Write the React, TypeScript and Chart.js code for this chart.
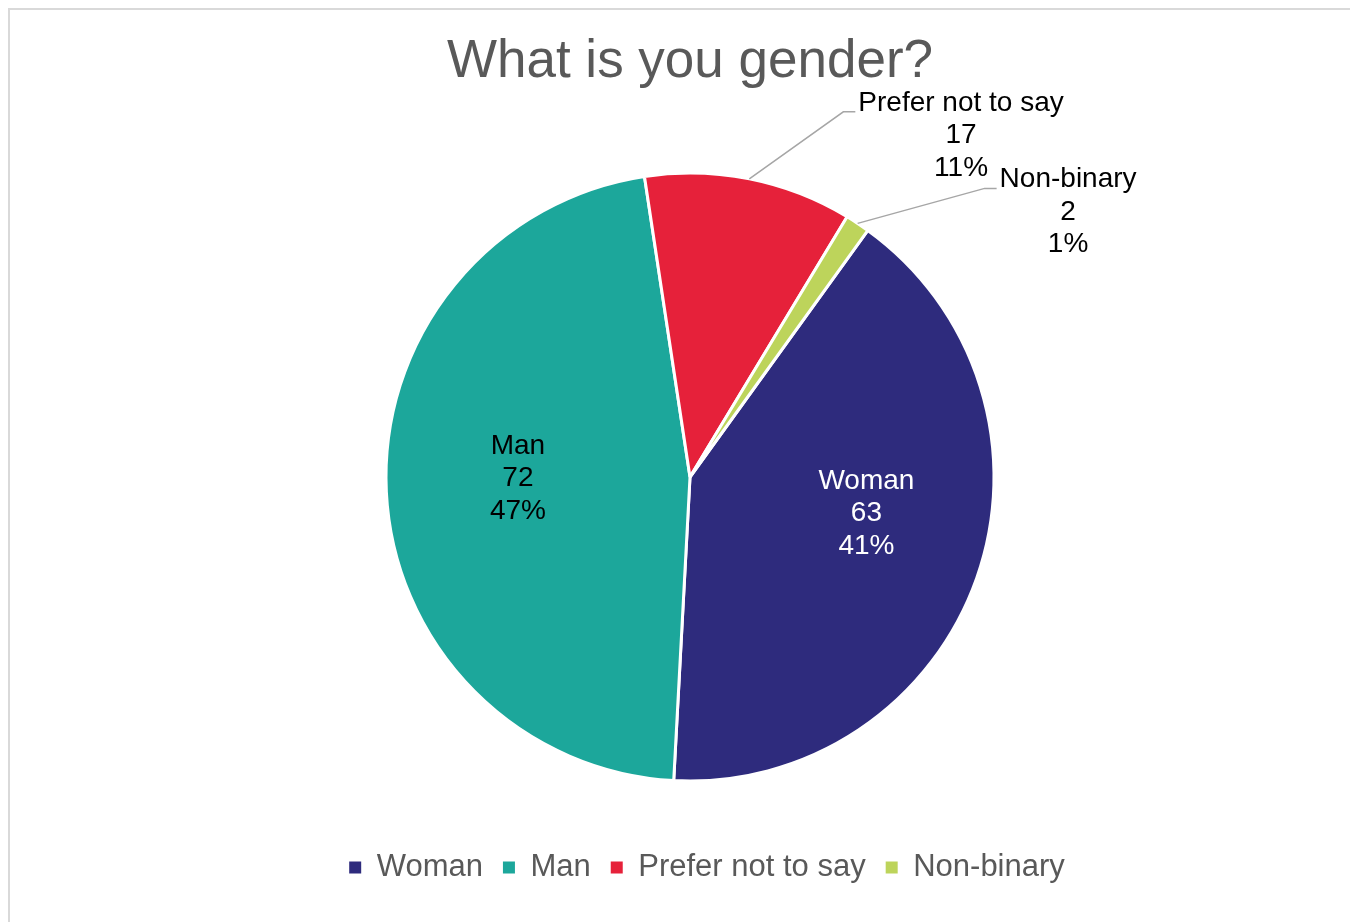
import React, { useEffect, useRef } from "react";
import { Chart, registerables } from "chart.js";

Chart.register(...registerables);

// ---- data ----
const categories = ["Woman", "Man", "Prefer not to say", "Non-binary"];
const counts = [63, 72, 17, 2];
const sliceColors = ["#2E2B7D", "#1CA79B", "#E6213A", "#BDD45B"];
const titleText = "What is you gender?";

// ---- label layout (styling, not data) ----
const labelLayout = [
  { mode: "inside", factor: 0.57, nudge: [13, -21], color: "#FFFFFF" },
  { mode: "inside", factor: 0.57, nudge: [1, -7], color: "#000000" },
  { mode: "outside", elbow: [94, -67], color: "#000000" },
  { mode: "outside", elbow: [127, -35], color: "#000000" },
];

const FONT = "'Liberation Sans', Arial, Helvetica, sans-serif";
const LABEL_SIZE = 28;
const LINE = 32.5;

const sliceLabelPlugin = {
  id: "sliceLabels",
  afterDatasetsDraw(chart: any) {
    const ctx = chart.ctx;
    const meta = chart.getDatasetMeta(0);
    const total = counts.reduce((a, b) => a + b, 0);
    ctx.save();
    ctx.font = `${LABEL_SIZE}px ${FONT}`;
    ctx.textBaseline = "middle";
    ctx.textAlign = "center";
    meta.data.forEach((arc: any, i: number) => {
      const { x, y, startAngle, endAngle, outerRadius } = arc.getProps(
        ["x", "y", "startAngle", "endAngle", "outerRadius"],
        true
      );
      const mid = (startAngle + endAngle) / 2;
      const lines = [
        categories[i],
        String(counts[i]),
        Math.round((counts[i] / total) * 100) + "%",
      ];
      const lay: any = labelLayout[i];
      ctx.fillStyle = lay.color;
      if (lay.mode === "inside") {
        const cx = x + Math.cos(mid) * outerRadius * lay.factor + lay.nudge[0];
        const cy = y + Math.sin(mid) * outerRadius * lay.factor + lay.nudge[1];
        lines.forEach((t, k) => ctx.fillText(t, cx, cy + (k - 1) * LINE));
      } else {
        const ex = x + Math.cos(mid) * outerRadius;
        const ey = y + Math.sin(mid) * outerRadius;
        const bx = ex + lay.elbow[0];
        const by = ey + lay.elbow[1];
        ctx.strokeStyle = "#A6A6A6";
        ctx.lineWidth = 1.5;
        ctx.beginPath();
        ctx.moveTo(ex, ey);
        ctx.lineTo(bx, by);
        ctx.lineTo(bx + 12, by);
        ctx.stroke();
        const maxW = Math.max(...lines.map((t) => ctx.measureText(t).width));
        const left = bx + 15;
        const cx = left + maxW / 2;
        const firstCenter = by - 9;
        lines.forEach((t, k) => ctx.fillText(t, cx, firstCenter + k * LINE));
      }
    });
    ctx.restore();
  },
};

const legendShiftPlugin = {
  id: "legendShift",
  afterLayout(chart: any) {
    const lg = chart.legend;
    if (lg) {
      lg.left += 17;
      lg.right += 17;
    }
  },
};

export default function App() {
  const canvasRef = useRef<HTMLCanvasElement | null>(null);

  useEffect(() => {
    document.documentElement.style.overflow = "hidden";
    const canvas = canvasRef.current;
    if (!canvas) return;
    Chart.defaults.font.family = FONT;
    const baseGen = (Chart as any).overrides.doughnut.plugins.legend.labels.generateLabels;
    const chart = new Chart(canvas, {
      type: "pie",
      data: {
        labels: categories,
        datasets: [
          {
            data: counts,
            backgroundColor: sliceColors,
            borderColor: "#FFFFFF",
            borderWidth: 3,
          },
        ],
      },
      options: {
        responsive: false,
        animation: false,
        rotation: 35.8,
        radius: 304,
        layout: { padding: { left: 12, right: 0, top: 0, bottom: 29 } },
        plugins: {
          title: {
            display: true,
            text: titleText,
            color: "#595959",
            font: { size: 53, weight: "normal", family: FONT },
            padding: { top: 21, bottom: 27.4 },
          },
          legend: {
            display: true,
            position: "bottom",
            labels: {
              boxWidth: 12,
              boxHeight: 12,
              padding: 20,
              color: "#595959",
              font: { size: 31, family: FONT },
              generateLabels: (c: any) =>
                baseGen(c).map((l: any) => ({ ...l, lineWidth: 0 })),
            },
          },
          tooltip: { enabled: false },
        },
      } as any,
      plugins: [sliceLabelPlugin, legendShiftPlugin],
    });
    return () => chart.destroy();
  }, []);

  return (
    <div
      style={{
        borderTop: "2px solid #D9D9D9",
        borderLeft: "2px solid #D9D9D9",
        width: 1400,
        height: 960,
        background: "#FFFFFF",
      }}
    >
      <canvas
        ref={canvasRef}
        width={1348}
        height={912}
        style={{ display: "block", width: 1348, height: 912 }}
      />
    </div>
  );
}
